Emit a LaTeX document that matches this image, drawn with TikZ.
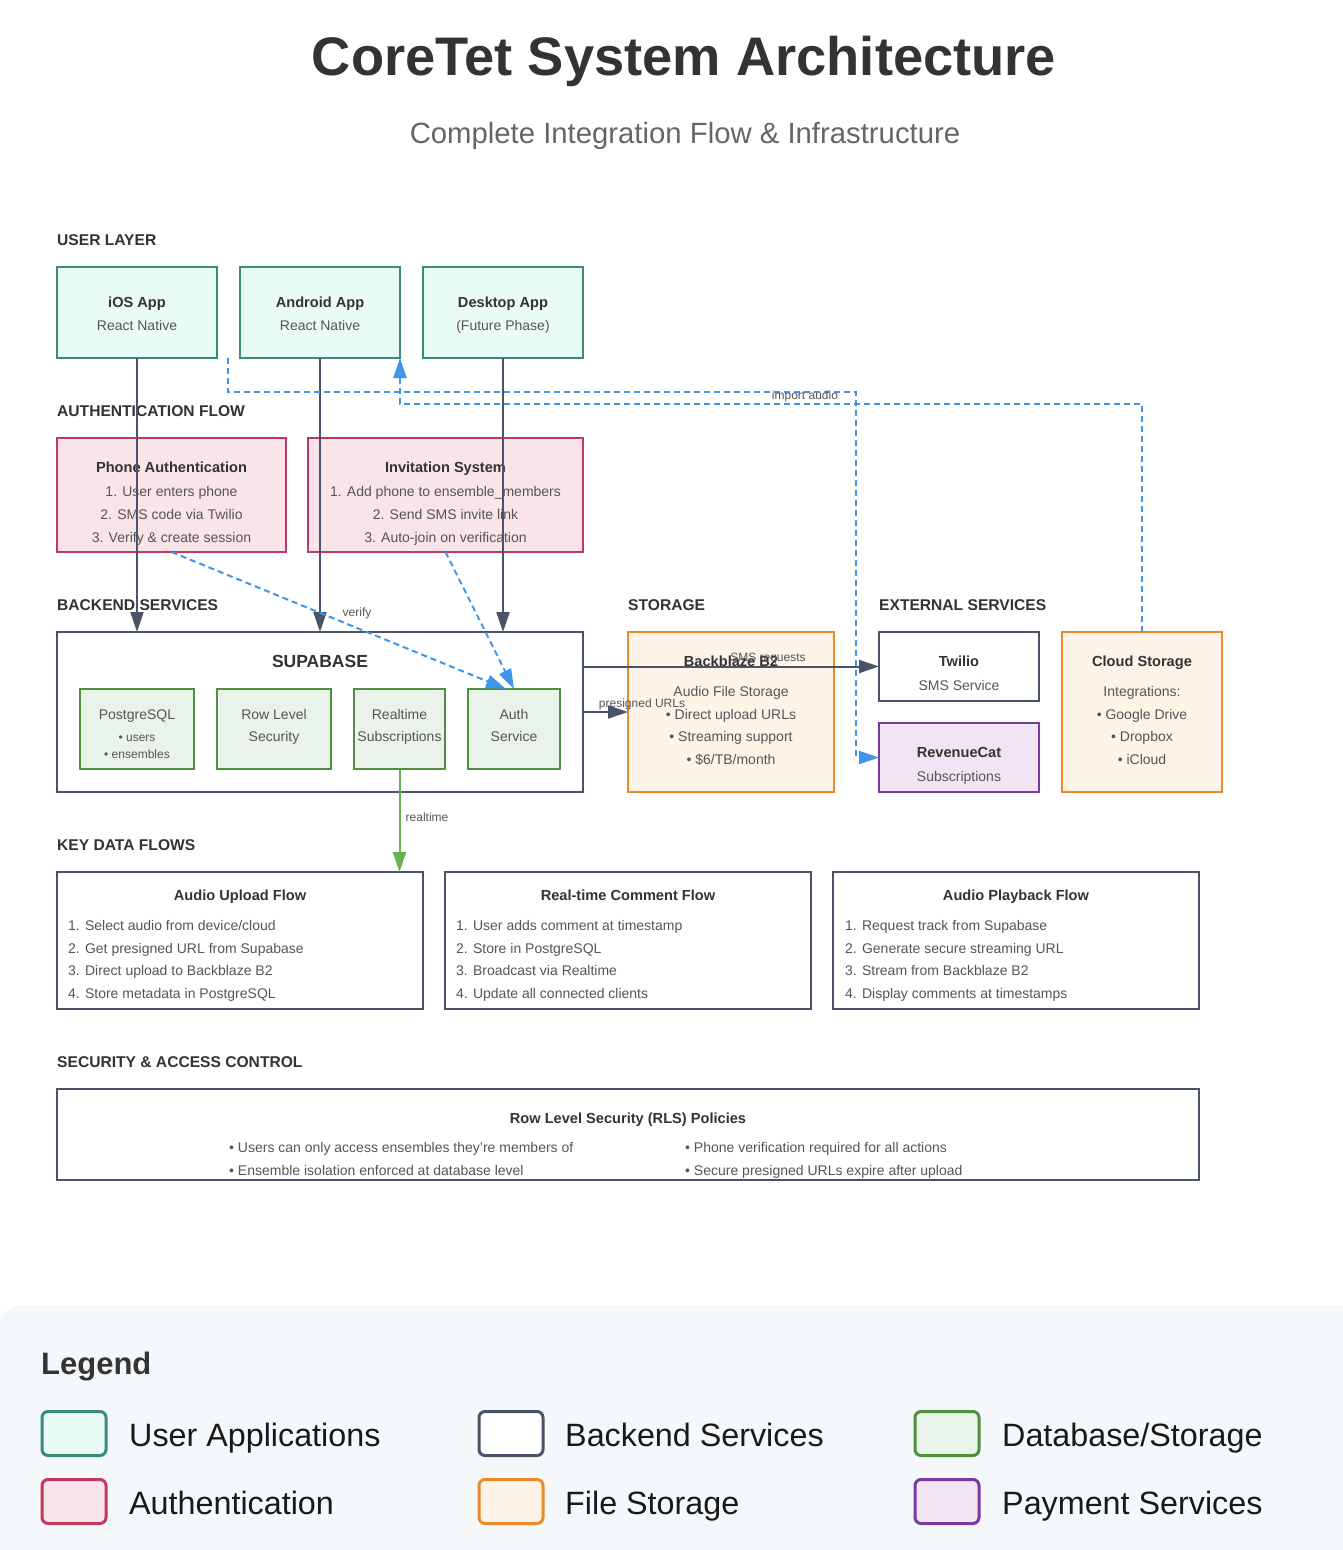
\documentclass[tikz,border=0pt]{standalone}
\usepackage{fontspec}
\setmainfont{Liberation Sans}
\usetikzlibrary{arrows.meta,calc}
\definecolor{tealS}{HTML}{3D8A7D}
\definecolor{tealF}{HTML}{E8FCF5}
\definecolor{pinkS}{HTML}{C0395F}
\definecolor{pinkF}{HTML}{F9E4EA}
\definecolor{slateS}{HTML}{4A5468}
\definecolor{greenS}{HTML}{4F8F3F}
\definecolor{greenF}{HTML}{EAF3E9}
\definecolor{orangeS}{HTML}{EC8A2A}
\definecolor{orangeF}{HTML}{FDF4E7}
\definecolor{purpS}{HTML}{7B3AA3}
\definecolor{purpF}{HTML}{F1E4F4}
\definecolor{blueL}{HTML}{3F95EC}
\definecolor{greenL}{HTML}{6AAF50}
\definecolor{txtD}{HTML}{333333}
\definecolor{txtM}{HTML}{555555}
\definecolor{legBg}{HTML}{F5F8FB}
\begin{document}
\begin{tikzpicture}[x=1pt,y=-1pt,
  box/.style={draw, line width=2pt, inner sep=0pt, outer sep=0pt},
  appbox/.style={box, draw=tealS, fill=tealF, minimum width=160pt, minimum height=91pt},
  authbox/.style={box, draw=pinkS, fill=pinkF, minimum height=114pt},
  backbox/.style={box, draw=slateS, fill=white},
  dbbox/.style={box, draw=greenS, fill=greenF, minimum height=80pt},
  filebox/.style={box, draw=orangeS, fill=orangeF, minimum height=160pt},
  paybox/.style={box, draw=purpS, fill=purpF, minimum width=160pt, minimum height=69pt},
  sec/.style={inner sep=0pt, anchor=west, yshift=-2pt, text=txtD, text height=11.5pt, text depth=3pt, font=\bfseries\fontsize{15.6}{18}\selectfont},
  ttl/.style={inner sep=0pt, yshift=-2pt, text=txtD, text height=10.5pt, text depth=3pt, font=\bfseries\fontsize{14.6}{17}\selectfont},
  sub/.style={inner sep=0pt, yshift=-1.5pt, text=txtM, text height=10pt, text depth=3pt, font=\fontsize{14}{16}\selectfont},
  subl/.style={sub, anchor=west},
  tiny/.style={inner sep=0pt, yshift=-1pt, text=txtM, text height=8.5pt, text depth=2.5pt, font=\fontsize{12}{14}\selectfont},
  conn/.style={draw=slateS, line width=2pt, -{Triangle[length=20pt,width=13pt]}},
  bconn/.style={draw=blueL, line width=2pt, dash pattern=on 6pt off 4pt, -{Triangle[length=20pt,width=13pt]}},
  gconn/.style={draw=greenL, line width=2pt, -{Triangle[length=20pt,width=13pt]}},
  swatch/.style={draw, line width=3pt, rounded corners=6pt, minimum width=64pt, minimum height=44pt, inner sep=0pt},
  legtxt/.style={inner sep=0pt, anchor=west, yshift=-3pt, text=black!90, text height=23pt, text depth=7pt, font=\fontsize{32.3}{38}\selectfont}
]
\useasboundingbox (0,0) rectangle (1342,1550);
\fill[white] (0,0) rectangle (1342,1550);

% Title
\node[inner sep=0pt, anchor=base, text=txtD, font=\bfseries\fontsize{54.3}{62}\selectfont] (title) at (684,75) {CoreTet System Architecture};
\node[inner sep=0pt, anchor=base, text=black!60, font=\fontsize{29.3}{34}\selectfont] (subtitle) at (685,143) {Complete Integration Flow \& Infrastructure};

% Section labels
\node[sec] (sUser) at (57,239) {USER LAYER};
\node[sec] (sAuth) at (57,410) {AUTHENTICATION FLOW};
\node[sec] (sBack) at (57,604) {BACKEND SERVICES};
\node[sec] (sStor) at (628,604) {STORAGE};
\node[sec] (sExt) at (879,604) {EXTERNAL SERVICES};
\node[sec] (sKey) at (57,844) {KEY DATA FLOWS};
\node[sec] (sSec) at (57,1061) {SECURITY \& ACCESS CONTROL};

% User layer
\node[appbox] (ios) at (137,312.5) {};
\node[ttl] (iosT) at (137,302) {iOS App};
\node[sub] (iosS) at (137,325) {React Native};
\node[appbox] (android) at (320,312.5) {};
\node[ttl] (andT) at (320,302) {Android App};
\node[sub] (andS) at (320,325) {React Native};
\node[appbox] (desktop) at (503,312.5) {};
\node[ttl] (deskT) at (503,302) {Desktop App};
\node[sub] (deskS) at (503,325) {(Future Phase)};

% Authentication
\node[authbox, minimum width=229pt] (phone) at (171.5,495) {};
\node[ttl] (phT) at (171.5,467) {Phone Authentication};
\node[sub] (ph1) at (171.5,491) {1. User enters phone};
\node[sub] (ph2) at (171.5,514) {2. SMS code via Twilio};
\node[sub] (ph3) at (171.5,537) {3. Verify \& create session};
\node[authbox, minimum width=275pt] (invite) at (445.5,495) {};
\node[ttl] (invT) at (445.5,467) {Invitation System};
\node[sub] (inv1) at (445.5,491) {1. Add phone to ensemble\_members};
\node[sub] (inv2) at (445.5,514) {2. Send SMS invite link};
\node[sub] (inv3) at (445.5,537) {3. Auto-join on verification};

% Supabase
\node[backbox, minimum width=526pt, minimum height=160pt] (supa) at (320,712) {};
\node[inner sep=0pt, yshift=-2pt, text=txtD, text height=12.5pt, text depth=3.5pt, font=\bfseries\fontsize{17.5}{20}\selectfont] (supaT) at (320,661) {SUPABASE};
\node[dbbox, minimum width=114pt] (pg) at (137,729) {};
\node[sub] (pgT) at (137,714) {PostgreSQL};
\node[tiny] (pg1) at (137,737) {• users};
\node[tiny] (pg2) at (137,754) {• ensembles};
\node[dbbox, minimum width=114pt] (rls) at (274,729) {};
\node[sub] (rls1) at (274,714) {Row Level};
\node[sub] (rls2) at (274,736) {Security};
\node[dbbox, minimum width=91pt] (rt) at (399.5,729) {};
\node[sub] (rt1) at (399.5,714) {Realtime};
\node[sub] (rt2) at (399.5,736) {Subscriptions};
\node[dbbox, minimum width=92pt] (auth) at (514,729) {};
\node[sub] (au1) at (514,714) {Auth};
\node[sub] (au2) at (514,736) {Service};

% Storage
\node[filebox, minimum width=206pt] (bb) at (731,712) {};
\node[ttl] (bbT) at (731,661) {Backblaze B2};
\node[sub] (bb1) at (731,691) {Audio File Storage};
\node[sub] (bb2) at (731,714) {• Direct upload URLs};
\node[sub] (bb3) at (731,736) {• Streaming support};
\node[sub] (bb4) at (731,759) {• \$6/TB/month};

% External
\node[backbox, minimum width=160pt, minimum height=69pt] (twilio) at (959,666.5) {};
\node[ttl] (twT) at (959,661) {Twilio};
\node[sub] (twS) at (959,685) {SMS Service};
\node[paybox] (rc) at (959,757.5) {};
\node[ttl] (rcT) at (959,752) {RevenueCat};
\node[sub] (rcS) at (959,776) {Subscriptions};
\node[filebox, minimum width=160pt] (cloud) at (1142,712) {};
\node[ttl] (clT) at (1142,661) {Cloud Storage};
\node[sub] (cl1) at (1142,691) {Integrations:};
\node[sub] (cl2) at (1142,714) {• Google Drive};
\node[sub] (cl3) at (1142,736) {• Dropbox};
\node[sub] (cl4) at (1142,759) {• iCloud};

% Key data flows
\node[backbox, minimum width=366pt, minimum height=137pt] (upload) at (240,940.5) {};
\node[ttl] (upT) at (240,895) {Audio Upload Flow};
\node[subl] (up1) at (68,925) {1. Select audio from device/cloud};
\node[subl] (up2) at (68,948) {2. Get presigned URL from Supabase};
\node[subl] (up3) at (68,970) {3. Direct upload to Backblaze B2};
\node[subl] (up4) at (68,993) {4. Store metadata in PostgreSQL};
\node[backbox, minimum width=366pt, minimum height=137pt] (comment) at (628,940.5) {};
\node[ttl] (cmT) at (628,895) {Real-time Comment Flow};
\node[subl] (cm1) at (456,925) {1. User adds comment at timestamp};
\node[subl] (cm2) at (456,948) {2. Store in PostgreSQL};
\node[subl] (cm3) at (456,970) {3. Broadcast via Realtime};
\node[subl] (cm4) at (456,993) {4. Update all connected clients};
\node[backbox, minimum width=366pt, minimum height=137pt] (play) at (1016,940.5) {};
\node[ttl] (plT) at (1016,895) {Audio Playback Flow};
\node[subl] (pl1) at (845,925) {1. Request track from Supabase};
\node[subl] (pl2) at (845,948) {2. Generate secure streaming URL};
\node[subl] (pl3) at (845,970) {3. Stream from Backblaze B2};
\node[subl] (pl4) at (845,993) {4. Display comments at timestamps};

% Security
\node[backbox, minimum width=1142pt, minimum height=91pt] (secbox) at (628,1134.5) {};
\node[ttl] (secT) at (628,1118) {Row Level Security (RLS) Policies};
\node[subl] (se1) at (229,1147) {• Users can only access ensembles they're members of};
\node[subl] (se2) at (229,1170) {• Ensemble isolation enforced at database level};
\node[subl] (se3) at (685,1147) {• Phone verification required for all actions};
\node[subl] (se4) at (685,1170) {• Secure presigned URLs expire after upload};

% Connectors
\coordinate (impS) at (228,358);
\coordinate (impC) at (856,392);
\coordinate (cldC) at (400,404);
\draw[conn] (ios.south) -- (ios.south |- supa.north);
\draw[conn] (android.south) -- (android.south |- supa.north);
\draw[conn] (desktop.south) -- (desktop.south |- supa.north);
\draw[bconn] (phone.south) -- ([xshift=-8pt]auth.north);
\draw[bconn] (invite.south) -- (auth.north);
\node[tiny] (verifyL) at (357,612) {verify};
\draw[conn] (twilio.west -| supa.east) -- (twilio.west);
\node[tiny] (smsL) at (768,657) {SMS requests};
\draw[conn] (bb.west -| supa.east) -- (bb.west);
\node[tiny] (preL) at (642,703) {presigned URLs};
\draw[gconn] (rt.south) -- (rt.south |- upload.north);
\node[tiny] (rtL) at (427,817) {realtime};
\draw[bconn] (impS) |- (impC) |- (rc.west);
\draw[bconn] (cloud.north) |- (cldC) -- (android.south east);
\node[tiny] (impL) at (805,395) {import audio};

% Legend
\fill[legBg, rounded corners=22pt] (0,1305) rectangle (1390,1600);
\node[inner sep=0pt, anchor=base west, text=txtD, font=\bfseries\fontsize{31}{36}\selectfont] (legT) at (41,1374) {Legend};
\node[swatch, draw=tealS, fill=tealF] (lg1) at (74,1433.5) {};
\node[legtxt] (lg1t) at (129,1435) {User Applications};
\node[swatch, draw=slateS, fill=white] (lg2) at (511,1433.5) {};
\node[legtxt] (lg2t) at (565,1435) {Backend Services};
\node[swatch, draw=greenS, fill=greenF] (lg3) at (947,1433.5) {};
\node[legtxt] (lg3t) at (1002,1435) {Database/Storage};
\node[swatch, draw=pinkS, fill=pinkF] (lg4) at (74,1501.5) {};
\node[legtxt] (lg4t) at (129,1503) {Authentication};
\node[swatch, draw=orangeS, fill=orangeF] (lg5) at (511,1501.5) {};
\node[legtxt] (lg5t) at (565,1503) {File Storage};
\node[swatch, draw=purpS, fill=purpF] (lg6) at (947,1501.5) {};
\node[legtxt] (lg6t) at (1002,1503) {Payment Services};
\end{tikzpicture}
\end{document}
